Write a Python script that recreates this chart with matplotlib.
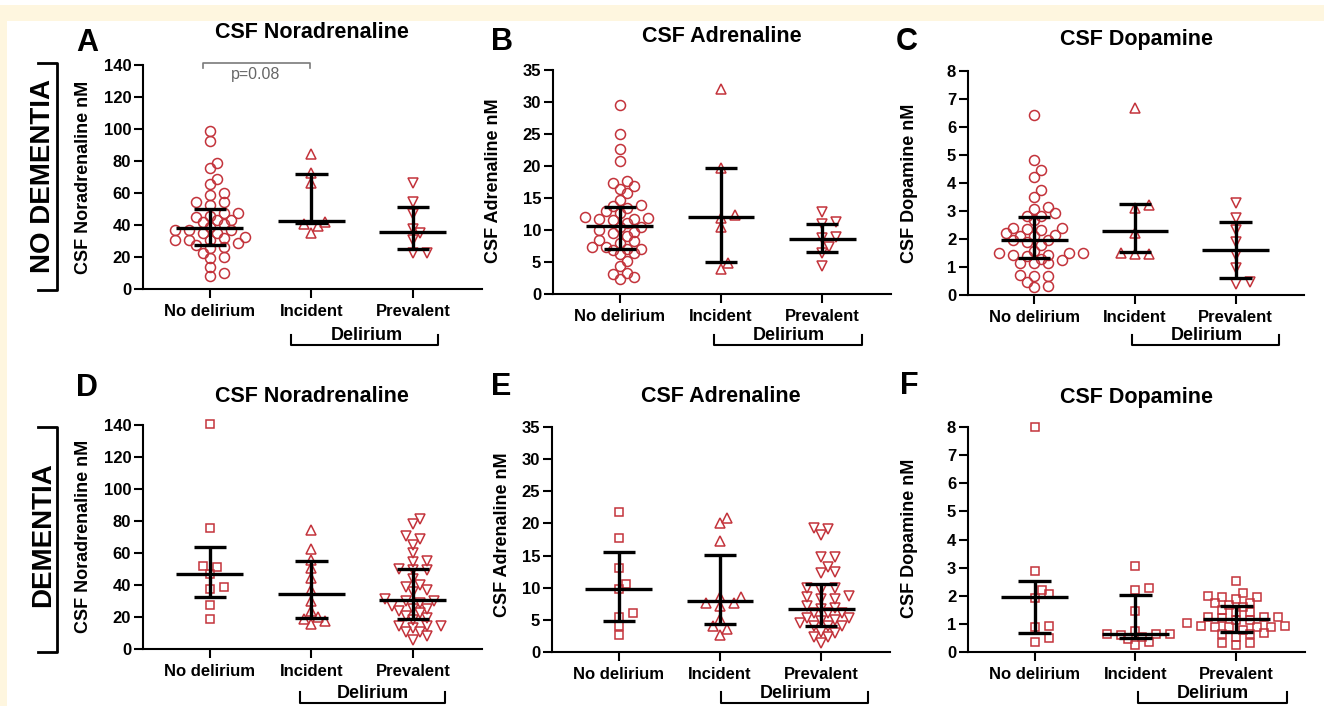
import numpy as np
import matplotlib.pyplot as plt
from matplotlib.lines import Line2D
from matplotlib.patches import Rectangle

plt.rcParams['font.family'] = ['Liberation Sans', 'DejaVu Sans']

W, H = 1324, 706

groups = ['No delirium', 'Incident', 'Prevalent']

# ---- no dementia ----
nodem_ne_none = [98.5, 92.2, 78.6, 75.9, 68.8, 65.9, 59.9, 58.8, 54.2, 54.2, 52.4, 45.7, 47.4, 47.4,
                 43.2, 45.3, 39.0, 43.2, 42.1, 36.9, 32.7, 31.7, 28.6, 30.7, 36.9, 34.8, 30.7, 30.7,
                 26.5, 25.4, 34.8, 20.2, 22.3, 19.2, 14.0, 8.1, 10.2, 36.9, 27.5, 40.5]
nodem_ne_inc = [84.3, 72.4, 66.1, 42.1, 35.3, 40.7, 39.6]
nodem_ne_prev = [66.5, 54.2, 46.7, 37.3, 30.7, 34.8, 22.3, 22.7]
nodem_ne_med = [38.0, 42.6, 35.5]
nodem_ne_q1 = [27.5, 41.5, 25.2]
nodem_ne_q3 = [49.9, 72.0, 51.1]

nodem_adr_none = [29.6, 25.0, 22.7, 20.8, 17.7, 17.3, 16.9, 16.4, 15.8, 14.7, 13.9, 13.7, 13.4, 12.9,
                  12.1, 12.6, 11.8, 11.7, 11.7, 11.1, 10.5, 11.6, 10.4, 10.0, 9.7, 9.0, 9.5, 8.3,
                  8.4, 8.0, 7.1, 7.1, 7.4, 7.4, 6.8, 6.4, 6.2, 5.1, 4.4, 2.7, 3.1, 3.3, 2.3]
nodem_adr_inc = [32.1, 19.7, 12.3, 11.8, 10.4, 3.9, 4.9]
nodem_adr_prev = [12.8, 11.3, 10.9, 8.9, 8.7, 7.3, 6.4, 4.3]
nodem_adr_med = [10.6, 12.0, 8.6]
nodem_adr_q1 = [7.1, 5.0, 6.5]
nodem_adr_q3 = [13.6, 19.7, 10.9]

nodem_da_none = [6.43, 4.83, 4.45, 4.20, 3.76, 3.49, 3.07, 3.16, 2.92, 2.83, 2.83, 2.69, 2.39, 2.33,
                 2.35, 2.39, 2.15, 2.21, 1.91, 1.97, 1.97, 2.09, 2.12, 1.79, 1.56, 1.38, 1.44, 1.50,
                 1.50, 1.44, 1.50, 1.26, 1.28, 1.14, 1.14, 1.14, 0.69, 0.69, 0.73, 0.29, 0.33, 0.45]
nodem_da_inc = [6.67, 3.10, 3.22, 2.21, 1.47, 1.50, 1.47]
nodem_da_prev = [3.28, 2.75, 2.33, 1.88, 1.44, 0.96, 0.40, 0.45]
nodem_da_med = [1.97, 2.27, 1.62]
nodem_da_q1 = [1.31, 1.53, 0.61]
nodem_da_q3 = [2.79, 3.26, 2.59]

# ---- dementia ----
dem_ne_none = [140.4, 75.6, 51.7, 51.2, 46.9, 37.5, 38.7, 27.3, 18.7]
dem_ne_inc = [74.6, 62.5, 55.8, 50.6, 44.4, 37.1, 30.0, 23.5, 15.6, 20.0, 17.7, 18.7]
dem_ne_prev = [78.1, 81.2, 69.0, 70.8, 65.2, 60.0, 54.2, 55.2, 49.6, 50.0, 49.2, 43.7, 40.2, 38.5,
               36.7, 35.4, 29.8, 31.2, 29.8, 26.7, 28.7, 23.5, 25.0, 25.0, 22.5, 20.8, 18.3, 19.4,
               13.1, 14.2, 14.2, 10.4, 14.2, 5.8, 10.4, 7.9]
dem_ne_med = [47.1, 34.6, 30.4]
dem_ne_q1 = [32.5, 19.4, 18.7]
dem_ne_q3 = [63.7, 54.8, 50.0]

dem_adr_none = [21.8, 17.7, 13.1, 10.6, 9.8, 6.0, 5.5, 4.1, 2.7]
dem_adr_inc = [20.8, 20.1, 17.2, 8.5, 7.7, 7.7, 8.5, 7.2, 5.1, 4.1, 3.6, 2.7]
dem_adr_prev = [19.2, 18.2, 19.3, 14.8, 14.8, 13.3, 12.5, 12.3, 10.0, 8.7, 9.7, 8.2, 10.0, 8.5, 8.2,
                6.7, 6.0, 5.3, 6.0, 6.8, 7.1, 6.0, 4.8, 4.5, 5.0, 5.3, 4.0, 4.1, 2.9, 2.4, 2.3,
                3.1, 1.4, 4.0]
dem_adr_med = [9.8, 7.9, 6.7]
dem_adr_q1 = [4.8, 4.4, 4.1]
dem_adr_q3 = [15.5, 15.1, 10.6]

dem_da_none = [8.0, 2.89, 2.20, 1.93, 2.05, 0.90, 0.93, 0.37, 0.49]
dem_da_inc = [3.05, 2.22, 2.28, 1.47, 0.64, 0.60, 0.54, 0.76, 0.45, 0.64, 0.25, 0.37, 0.64]
dem_da_prev = [2.53, 2.11, 1.87, 1.99, 1.94, 1.94, 1.75, 1.75, 1.61, 1.43, 1.43, 1.51, 1.25, 1.25,
               1.20, 0.92, 0.92, 1.02, 0.90, 0.80, 0.64, 0.64, 0.66, 0.31, 0.33, 0.25, 0.54, 0.90,
               0.90, 0.90, 1.14, 1.25, 1.14, 1.67]
dem_da_med = [1.94, 0.63, 1.16]
dem_da_q1 = [0.69, 0.49, 0.72]
dem_da_q3 = [2.53, 2.02, 1.64]

RED = '#c3333b'
XL = (-0.66, 2.68)

fig = plt.figure(figsize=(W / 100, H / 100), dpi=100)
fig.patch.set_facecolor('white')


def fx(x):
    return x / W


def fy(y):
    return 1 - y / H


# cream page border
fig.add_artist(Rectangle((0, fy(21)), 1, fy(5) - fy(21), transform=fig.transFigure,
                         color='#fef6df', lw=0, zorder=0))
fig.add_artist(Rectangle((0, 0), fx(7), fy(21), transform=fig.transFigure,
                         color='#fef6df', lw=0, zorder=0))


def swarm(vals, px_y, px_x, d=7.8, step=7.0):
    # simple beeswarm: nearest free slot to the centre line
    vals = np.asarray(vals)
    offs = np.zeros(len(vals))
    placed = []
    ks = [0]
    for k in range(1, 15):
        ks += [k, -k]
    for i in np.argsort(vals):
        y = vals[i] * px_y
        for k in ks:
            x = k * step
            if all((x - a) ** 2 + (y - b) ** 2 >= d * d for a, b in placed):
                break
        placed.append((x, y))
        offs[i] = x / px_x
    return offs


def panel(box, ymax, ystep, sets, markers, sizes, med, q1, q3):
    l, t, r, b = box
    ax = fig.add_axes([fx(l), fy(b), fx(r - l), fy(t) - fy(b)])
    ax.set_xlim(*XL)
    ax.set_ylim(0, ymax)
    px_x = (r - l) / (XL[1] - XL[0])
    px_y = (b - t) / ymax
    for i, (vals, m, s) in enumerate(zip(sets, markers, sizes)):
        xs = i + swarm(vals, px_y, px_x)
        ax.plot(xs, vals, ls='none', marker=m, ms=s, mfc='none', mec=RED, mew=1.1,
                clip_on=False, zorder=2)
    xs = np.arange(3)
    ax.hlines(med, xs - 0.33, xs + 0.33, color='black', lw=2.4, zorder=3)
    ax.hlines(q1, xs - 0.16, xs + 0.16, color='black', lw=2.4, zorder=3)
    ax.hlines(q3, xs - 0.16, xs + 0.16, color='black', lw=2.4, zorder=3)
    ax.vlines(xs, q1, q3, color='black', lw=2.4, zorder=3)
    ax.set_xticks(xs)
    ax.set_xticklabels(groups, fontsize=12, fontweight='bold')
    ticks = np.arange(0, ymax + ystep / 2, ystep)
    ax.set_yticks(ticks)
    ax.set_yticklabels([f'{v:g}' for v in ticks], fontsize=12, fontweight='bold')
    for s in ['top', 'right']:
        ax.spines[s].set_visible(False)
    for s in ['left', 'bottom']:
        ax.spines[s].set_linewidth(1.5)
    ax.tick_params(length=6.5, width=1.5, pad=2)
    ax.tick_params(axis='x', pad=4)
    ax.patch.set_alpha(0)
    return ax


def line_px(xs, ys, **kw):
    fig.add_artist(Line2D([fx(x) for x in xs], [fy(y) for y in ys],
                          transform=fig.transFigure, **kw))


def text_px(x, y, s, **kw):
    fig.text(fx(x), fy(y), s, ha='center', va='center', **kw)


mk_top = [('o', '^', 'v'), (7.2, 7.4, 7.4)]
mk_bot = [('s', '^', 'v'), (6.4, 7.4, 7.4)]

panels = [
    ((143, 65, 482, 289), 140, 20, [nodem_ne_none, nodem_ne_inc, nodem_ne_prev], mk_top,
     nodem_ne_med, nodem_ne_q1, nodem_ne_q3, 'CSF Noradrenaline', 'CSF Noradrenaline nM',
     'A', (87, 43), (312, 33), (84, 177), (291, 438, 345, 335, 367, 336)),
    ((553, 70, 891, 294), 35, 5, [nodem_adr_none, nodem_adr_inc, nodem_adr_prev], mk_top,
     nodem_adr_med, nodem_adr_q1, nodem_adr_q3, 'CSF Adrenaline', 'CSF Adrenaline nM',
     'B', (502, 42), (722, 37), (494, 181), (714, 862, 345, 335, 789, 336)),
    ((968, 71, 1304, 295), 8, 1, [nodem_da_none, nodem_da_inc, nodem_da_prev], mk_top,
     nodem_da_med, nodem_da_q1, nodem_da_q3, 'CSF Dopamine', 'CSF Dopamine nM',
     'C', (907, 42), (1136, 40), (910, 183), (1132, 1279, 345, 335, 1207, 336)),
    ((143, 425, 482, 649), 140, 20, [dem_ne_none, dem_ne_inc, dem_ne_prev], mk_bot,
     dem_ne_med, dem_ne_q1, dem_ne_q3, 'CSF Noradrenaline', 'CSF Noradrenaline nM',
     'D', (87, 388), (312, 397), (84, 536), (300, 445, 703, 692, 373, 693)),
    ((552, 427, 890, 652), 35, 5, [dem_adr_none, dem_adr_inc, dem_adr_prev], mk_bot,
     dem_adr_med, dem_adr_q1, dem_adr_q3, 'CSF Adrenaline', 'CSF Adrenaline nM',
     'E', (501, 387), (721, 397), (503, 535), (721, 868, 703, 692, 796, 693)),
    ((968, 427, 1305, 652), 8, 1, [dem_da_none, dem_da_inc, dem_da_prev],
     [('s', 's', 's'), (6.4, 6.4, 6.4)],
     dem_da_med, dem_da_q1, dem_da_q3, 'CSF Dopamine', 'CSF Dopamine nM',
     'F', (909, 386), (1137, 397), (910, 538), (1138, 1287, 703, 692, 1213, 693)),
]

for (box, ymax, ystep, sets, mk, med, q1, q3, title, ylabel,
     letter, lpos, tpos, ypos, br) in panels:
    panel(box, ymax, ystep, sets, mk[0], mk[1], med, q1, q3)
    text_px(*lpos, letter, fontsize=22, fontweight='bold')
    text_px(*tpos, title, fontsize=15.5, fontweight='bold')
    text_px(*ypos, ylabel, fontsize=13, fontweight='bold', rotation=90)
    x1, x2, yl, yt, tx, ty = br
    line_px([x1, x1, x2, x2], [yt, yl, yl, yt], color='black', lw=1.5)
    text_px(tx, ty, 'Delirium', fontsize=13, fontweight='bold')

# p value bracket in panel A
line_px([203, 203, 310, 310], [68, 63, 63, 68], color='#7a7a7a', lw=1.2)
text_px(256, 75, 'p=0.08', fontsize=11.5, color='#666666')

# row labels
text_px(43, 176, 'NO DEMENTIA', fontsize=20, rotation=90, fontweight='bold')
line_px([38, 57, 57, 38], [63, 63, 290, 290], color='black', lw=2)
text_px(43, 535, 'DEMENTIA', fontsize=20, rotation=90, fontweight='bold')
line_px([38, 57, 57, 38], [427, 427, 652, 652], color='black', lw=2)

fig.savefig('out.png', dpi=100)
